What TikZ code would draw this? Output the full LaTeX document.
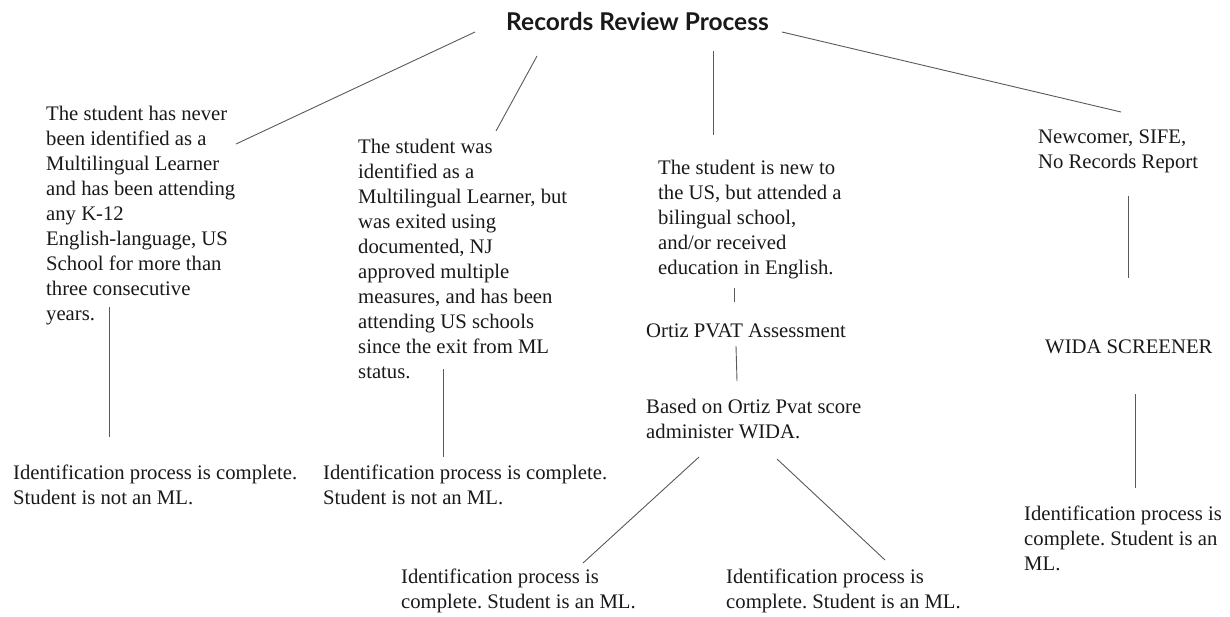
\documentclass[tikz,border=0pt]{standalone}
\usepackage{fontspec}
\setmainfont{Liberation Serif}
\newfontfamily\titlefont{Lato}
\frenchspacing
\begin{document}
\begin{tikzpicture}[x=1pt,y=-1pt,
  txt/.style={anchor=north west, align=left, inner sep=0pt, text=black!90,
              font=\fontsize{20.7}{25}\selectfont},
  ttl/.style={anchor=base, inner sep=0pt, text=black!90,
              font=\titlefont\bfseries\fontsize{24.5}{28}\selectfont},
  conn/.style={draw=black!65, line width=0.9pt}]
\useasboundingbox (0,0) rectangle (1230,616);

\node[ttl] (title) at (637.5,30) {Records Review Process};

\node[txt] (c1) at (46,102.5) {\strut The student has never\\been identified as a\\Multilingual Learner\\and has been attending\\any K-12\\English-language, US\\School for more than\\three consecutive\\years.};
\node[txt] (c2) at (358,135.5) {\strut The student was\\identified as a\\Multilingual Learner, but\\was exited using\\documented, NJ\\approved multiple\\measures, and has been\\attending US schools\\since the exit from ML\\status.};
\node[txt] (c3) at (658,156.5) {\strut The student is new to\\the US, but attended a\\bilingual school,\\and/or received\\education in English.};
\node[txt] (c4) at (1038,125.5) {\strut Newcomer, SIFE,\\No Records Report};

\node[txt] (ortiz) at (646,319.5) {\strut Ortiz PVAT Assessment};
\node[txt] (based) at (646,395.5) {\strut Based on Ortiz Pvat score\\administer WIDA.};
\node[txt] (wida) at (1045,336) {\strut WIDA SCREENER};

\node[txt] (bl1) at (13,461.5) {\strut Identification process is complete.\\Student is not an ML.};
\node[txt] (bl2) at (323,461.5) {\strut Identification process is complete.\\Student is not an ML.};
\node[txt] (bm1) at (401,565.5) {\strut Identification process is\\complete. Student is an ML.};
\node[txt] (bm2) at (726,565.5) {\strut Identification process is\\complete. Student is an ML.};
\node[txt] (br) at (1024,502.5) {\strut Identification process is\\complete. Student is an\\ML.};

% connector end points
\coordinate (t1) at (475,32);   \coordinate (e1) at (236,144);
\coordinate (t2) at (537,56);   \coordinate (e2) at (496,131);
\coordinate (t3) at (713,51);   \coordinate (e3) at (713,135);
\coordinate (t4) at (782,32);   \coordinate (e4) at (1121,112);
\coordinate (c1s) at (109,307); \coordinate (bl1n) at (109,437);
\coordinate (c2s) at (443,369); \coordinate (bl2n) at (443,457);
\coordinate (c3s) at (734,288); \coordinate (ortn) at (734,302);
\coordinate (orts) at (736,346); \coordinate (basn) at (737,381);
\coordinate (basl) at (699,457); \coordinate (bm1n) at (583,563);
\coordinate (basr) at (777,459); \coordinate (bm2n) at (885,560);
\coordinate (c4s) at (1128,196); \coordinate (widn) at (1128,278);
\coordinate (wids) at (1135,394); \coordinate (brn) at (1135,488);

\draw[conn] (t1) -- (e1);
\draw[conn] (t2) -- (e2);
\draw[conn] (t3) -- (e3);
\draw[conn] (t4) -- (e4);
\draw[conn] (c1s) -- (bl1n);
\draw[conn] (c2s) -- (bl2n);
\draw[conn] (c3s) -- (ortn);
\draw[conn] (orts) -- (basn);
\draw[conn] (basl) -- (bm1n);
\draw[conn] (basr) -- (bm2n);
\draw[conn] (c4s) -- (widn);
\draw[conn] (wids) -- (brn);
\end{tikzpicture}
\end{document}
